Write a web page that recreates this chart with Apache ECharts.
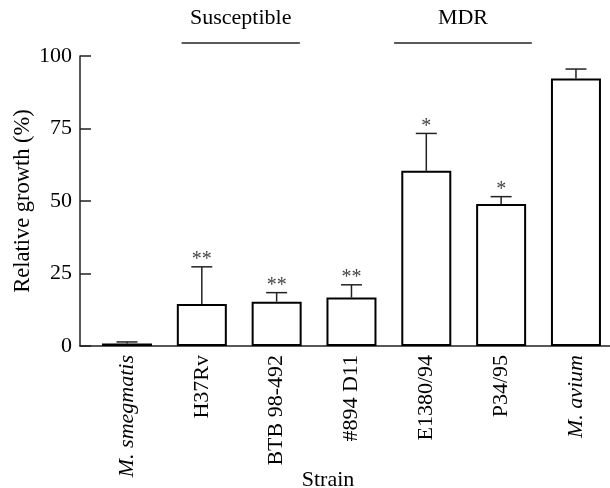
<!DOCTYPE html>
<html>
<head>
<meta charset="utf-8">
<script src="https://cdn.jsdelivr.net/npm/echarts@6/dist/echarts.min.js"></script>
<style>
  html, body { margin: 0; padding: 0; background: #fff; }
  #chart { width: 610px; height: 488px; }
</style>
</head>
<body>
<div id="chart"></div>
<script>
// strains and measured values (relative growth, %)
var strains = ['M. smegmatis', 'H37Rv', 'BTB 98-492', '#894 D11', 'E1380/94', 'P34/95', 'M. avium'];
var italicStrains = [true, false, false, false, false, false, true];
var growth = [0.9, 14.5, 15.3, 16.7, 60.4, 49.0, 92.2];
var errors = [0.5, 12.8, 3.1, 4.4, 12.9, 2.5, 3.3];
var stars = ['', '**', '**', '**', '*', '*', ''];
var yTicks = [0, 25, 50, 75, 100];

// group brackets above the bars: [from, to, level, label]
var groups = [
  [0.73, 2.31, 104.5, 'Susceptible'],
  [3.57, 5.41, 104.5, 'MDR']
];

var FONT = 'Liberation Serif';
var idx = strains.map(function (s, i) { return i; });

var barData = growth.map(function (v, i) { return [i, v]; });
var errData = growth.map(function (v, i) { return [i, v, errors[i], stars[i]]; });

var chart = echarts.init(document.getElementById('chart'));

var option = {
  animation: false,
  backgroundColor: '#fff',
  grid: { left: 80, top: 56, right: 0, bottom: 142, containLabel: false, outerBoundsMode: 'none' },
  xAxis: {
    type: 'value',
    min: -0.628,
    max: 6.455,
    name: 'Strain',
    nameLocation: 'middle',
    nameGap: 123,
    nameMoveOverlap: false,
    nameTextStyle: { fontFamily: FONT, fontSize: 22, color: '#000', padding: [0, 34, 0, 0] },
    axisLine: { show: true, onZero: false, lineStyle: { color: '#222', width: 1.5 } },
    axisTick: { show: false },
    splitLine: { show: false },
    axisLabel: {
      customValues: idx,
      rotate: 90,
      margin: 9,
      fontFamily: FONT,
      fontSize: 22,
      color: '#000',
      formatter: function (v) {
        var i = Math.round(v);
        return italicStrains[i] ? '{i|' + strains[i] + '}' : strains[i];
      },
      rich: { i: { fontStyle: 'italic', fontFamily: FONT, fontSize: 22, color: '#000' } }
    }
  },
  yAxis: {
    type: 'value',
    min: 0,
    max: 100,
    interval: 25,
    name: 'Relative growth (%)',
    nameLocation: 'middle',
    nameGap: 45,
    nameMoveOverlap: false,
    nameTextStyle: { fontFamily: FONT, fontSize: 22.5, color: '#000' },
    axisLine: { show: true, onZero: false, lineStyle: { color: '#222', width: 1.5 } },
    axisTick: { show: true, inside: true, length: 11, lineStyle: { color: '#222', width: 1.5 } },
    splitLine: { show: false },
    axisLabel: {
      customValues: yTicks,
      margin: 8,
      fontFamily: FONT,
      fontSize: 22,
      color: '#000'
    }
  },
  series: [
    {
      type: 'bar',
      data: barData,
      barWidth: 50,
      itemStyle: { color: '#fff', borderColor: '#000', borderWidth: 2 }
    },
    {
      type: 'custom',
      data: errData,
      z: 3,
      renderItem: function (params, api) {
        var x = api.value(0), v = api.value(1), e = api.value(2);
        var star = stars[params.dataIndex];
        var top = api.coord([x, v]);
        var cap = api.coord([x, v + e]);
        var half = 10.5;
        var style = { stroke: '#222', lineWidth: 1.5 };
        var children = [
          { type: 'line', shape: { x1: top[0], y1: top[1], x2: cap[0], y2: cap[1] }, style: style },
          { type: 'line', shape: { x1: cap[0] - half, y1: cap[1], x2: cap[0] + half, y2: cap[1] }, style: style }
        ];
        if (star) {
          children.push({
            type: 'text',
            style: {
              text: star, x: cap[0], y: cap[1] + 3,
              align: 'center', verticalAlign: 'bottom',
              fontFamily: FONT, fontSize: 20, fill: '#444'
            }
          });
        }
        return { type: 'group', children: children };
      }
    },
    {
      type: 'custom',
      data: groups,
      clip: false,
      renderItem: function (params, api) {
        var g = groups[params.dataIndex];
        var a = api.coord([g[0], g[2]]);
        var b = api.coord([g[1], g[2]]);
        return {
          type: 'group',
          children: [
            { type: 'line', shape: { x1: a[0], y1: a[1], x2: b[0], y2: b[1] }, style: { stroke: '#222', lineWidth: 1.5 } },
            {
              type: 'text',
              style: {
                text: g[3], x: (a[0] + b[0]) / 2, y: a[1] - 25,
                align: 'center', verticalAlign: 'middle',
                fontFamily: FONT, fontSize: 22, fill: '#000'
              }
            }
          ]
        };
      }
    }
  ]
};

chart.setOption(option);
</script>
</body>
</html>
